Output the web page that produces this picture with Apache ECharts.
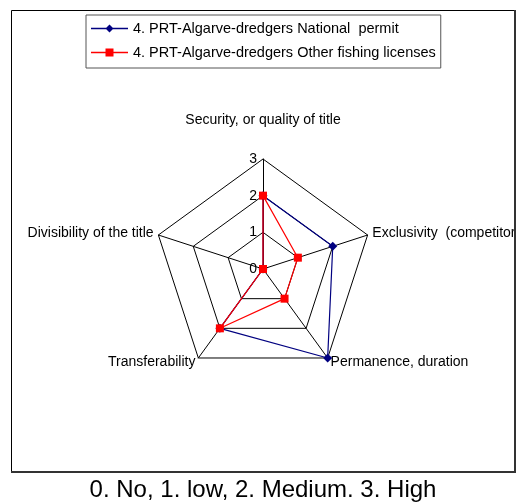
<!DOCTYPE html>
<html>
<head>
<meta charset="utf-8">
<script src="https://cdn.jsdelivr.net/npm/echarts@6/dist/echarts.min.js"></script>
<style>
html,body{margin:0;padding:0;background:#fff;}
#chart{width:523px;height:504px;}
</style>
</head>
<body>
<div id="chart"></div>
<script>
// Indicators listed counter-clockwise from the top (ECharts draws radar axes counter-clockwise)
const indicatorNames = [
  'Security, or quality of title',
  'Divisibility of the title',
  'Transferability',
  'Permanence, duration',
  'Exclusivity  (competitors)'
];
const seriesNames = [
  '4. PRT-Algarve-dredgers National  permit',
  '4. PRT-Algarve-dredgers Other fishing licenses'
];
const nationalPermit = [2, 0, 2, 3, 2];
const otherLicenses = [2, 0, 2, 1, 1];
const axisMax = 3;
const caption = '0. No, 1. low, 2. Medium. 3. High';

const FONT = 'Liberation Sans, Arial, sans-serif';
const iconDiamond = 'path://M0,4.3 L37,4.3 L37,5.7 L0,5.7 Z M18.5,1 L22.5,5 L18.5,9 L14.5,5 Z';
const iconSquare = 'path://M0,4.3 L37,4.3 L37,5.7 L0,5.7 Z M14.5,1 L22.5,1 L22.5,9 L14.5,9 Z';

const chart = echarts.init(document.getElementById('chart'), null, {renderer: 'canvas'});
const option = {
  animation: false,
  backgroundColor: '#fff',
  legend: {
    orient: 'vertical',
    left: 86,
    top: 15,
    padding: [6, 5, 8, 5],
    itemWidth: 37,
    itemHeight: 10,
    itemGap: 9,
    borderColor: '#555',
    borderWidth: 1,
    selectedMode: false,
    textStyle: {fontFamily: FONT, fontSize: 14.5, color: '#000'},
    data: [
      {name: seriesNames[0], icon: iconDiamond, itemStyle: {color: '#000080'}},
      {name: seriesNames[1], icon: iconSquare, itemStyle: {color: '#ff0000'}}
    ]
  },
  radar: {
    center: [263, 269],
    radius: 110,
    shape: 'polygon',
    splitNumber: 3,
    startAngle: 90,
    nameGap: 5,
    indicator: indicatorNames.map((n, i) => {
      const o = {name: n, min: 0, max: axisMax};
      if (i === 0) o.axisLabel = {show: true};
      return o;
    }),
    axisName: {
      color: '#000',
      fontFamily: FONT,
      fontSize: 14,
      formatter: function (name) {
        if (name === indicatorNames[0]) return '{top|' + name + '}';
        return name;
      },
      rich: {
        top: {fontFamily: FONT, fontSize: 14, color: '#000', padding: [0, 0, 27, 0]}
      }
    },
    axisLabel: {show: false, color: '#000', fontFamily: FONT, fontSize: 14, margin: 6},
    axisTick: {show: false},
    axisLine: {lineStyle: {color: '#000', width: 1}},
    splitLine: {lineStyle: {color: '#000', width: 1}},
    splitArea: {show: false}
  },
  series: [
    {
      type: 'radar',
      name: seriesNames[0],
      symbol: 'diamond',
      symbolSize: 9,
      lineStyle: {color: '#000080', width: 1.2},
      itemStyle: {color: '#000080'},
      data: [{name: seriesNames[0], value: nationalPermit}]
    },
    {
      type: 'radar',
      name: seriesNames[1],
      symbol: 'rect',
      symbolSize: 8,
      lineStyle: {color: '#ff0000', width: 1.2},
      itemStyle: {color: '#ff0000'},
      data: [{name: seriesNames[1], value: otherLicenses}]
    }
  ],
  graphic: [
    {type: 'rect', z: 100, shape: {x: 515, y: 0, width: 8, height: 480}, style: {fill: '#fff'}},
    {type: 'rect', z: 101, shape: {x: 11.5, y: 10.5, width: 503, height: 461}, style: {fill: null, stroke: '#000', lineWidth: 1}},
    {type: 'line', z: 101, shape: {x1: 515, y1: 10, x2: 515, y2: 472.5}, style: {stroke: '#333', lineWidth: 2}},
    {type: 'line', z: 101, shape: {x1: 11, y1: 472, x2: 516, y2: 472}, style: {stroke: '#333', lineWidth: 2}},
    {type: 'text', z: 101, x: 263, y: 490, style: {text: caption, fontFamily: FONT, fontSize: 24, fill: '#000', align: 'center', verticalAlign: 'middle'}}
  ]
};
chart.setOption(option);
</script>
</body>
</html>
